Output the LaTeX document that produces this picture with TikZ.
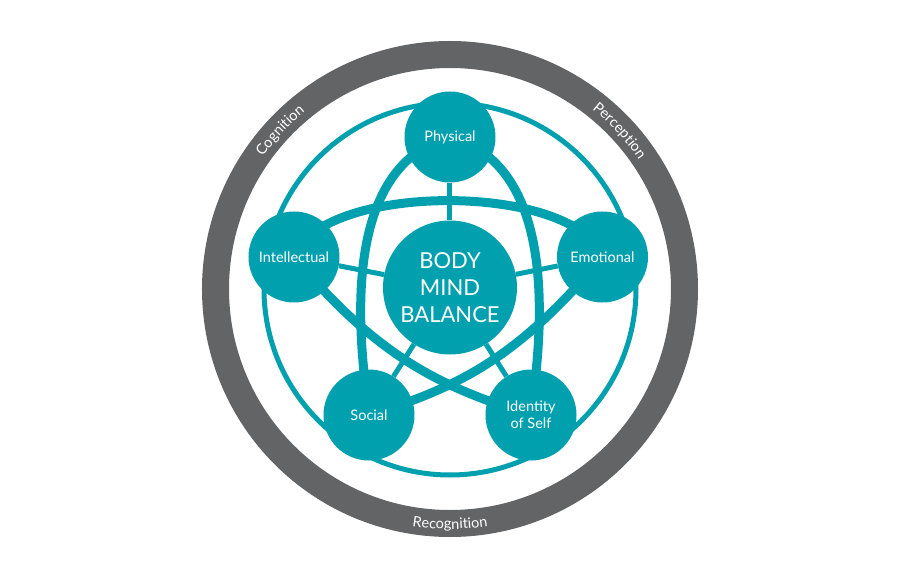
\documentclass[tikz,border=0pt]{standalone}
\usepackage{fontspec}
\setmainfont{Lato}
\usepackage{xcolor}
\usetikzlibrary{decorations.text,backgrounds}
\definecolor{bmteal}{HTML}{00A0AF}
\definecolor{ringgrey}{HTML}{636466}
\pgfdeclarelayer{links}
\pgfsetlayers{background,links,main}

\begin{document}
\begin{tikzpicture}[x=1pt, y=1pt,
    area/.style={circle, fill=bmteal, minimum size=91pt, inner sep=0pt, text=white,
      align=center, font=\fontsize{14.5}{17}\selectfont},
    hub/.style={area, minimum size=134pt, font=\fontsize{22}{27}\selectfont},
    spoke/.style={draw=bmteal, line width=5pt},
    arch/.style={draw=bmteal, line width=9pt},
    ringtext/.style={decorate, decoration={text along path, text align=center,
      text={|\fontsize{14.5}{16}\selectfont\color{white}|#1}}}]
  \useasboundingbox (-450,-292) rectangle (450,289);
  % the hub and the five areas round it
  \node[hub] (mind) at (0,1.5) {BODY\\MIND\\BALANCE};
  \node[area] (phys) at (0,152) {Physical};
  \node[area] (intel) at (-156,32) {Intellectual};
  \node[area] (emo) at (152.5,32) {Emotional};
  \node[area] (soc) at (-81,-126) {Social};
  \node[area] (ident) at (81,-126) {Identity\\of Self};
  % grey ring with its three words
  \begin{pgfonlayer}{background}
    \draw[ringgrey, line width=27pt] (0,0) circle[radius=234.5];
    \path[ringtext=Cognition] (162:229) arc[start angle=162, end angle=112, radius=229];
    \path[ringtext=Perception] (68:229) arc[start angle=68, end angle=18, radius=229];
    \path[ringtext=Recognition] (245:240) arc[start angle=245, end angle=295, radius=240];
  \end{pgfonlayer}
  % circle, spokes and the five crossing arcs, all behind the areas
  \begin{pgfonlayer}{links}
    \draw[bmteal, line width=5pt] (0,0) circle[radius=186];
    \foreach \n in {phys,intel,emo,soc,ident}
      \draw[spoke] (mind) -- (\n);
    \draw[arch] (intel.center) to[out=70, in=110, distance=80pt] (emo.center);
    \draw[arch] (phys.center) to[out=195, in=95, out distance=128pt, in distance=33pt] (soc.center);
    \draw[arch] (phys.center) to[out=-15, in=85, out distance=128pt, in distance=33pt] (ident.center);
    \draw[arch] (intel.center) to[out=-50, in=163, out distance=130pt, in distance=95pt] (ident.center);
    \draw[arch] (emo.center) to[out=230, in=17, out distance=130pt, in distance=95pt] (soc.center);
  \end{pgfonlayer}
\end{tikzpicture}
\end{document}
